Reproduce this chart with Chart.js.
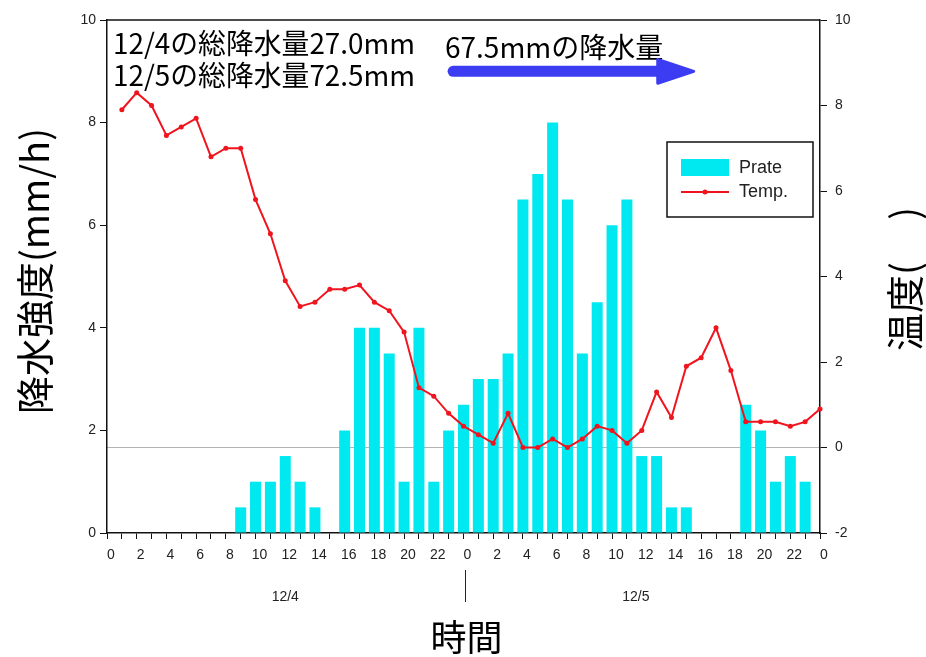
<!DOCTYPE html>
<html lang="ja">
<head>
<meta charset="utf-8">
<title>降水強度と温度</title>
<script src="https://cdn.jsdelivr.net/npm/chart.js@4.4.1/dist/chart.umd.min.js"></script>
<style>
  html, body { margin: 0; padding: 0; background: #fff; }
  #wrap { width: 926px; height: 657px; }
</style>
</head>
<body>
<div id="wrap"><canvas id="grafico" width="926" height="657"></canvas></div>
<script>
// horas desde 12/4 0:00 hasta 12/6 0:00
const horas = [0,1,2,3,4,5,6,7,8,9,10,11,12,13,14,15,16,17,18,19,20,21,22,23,
               24,25,26,27,28,29,30,31,32,33,34,35,36,37,38,39,40,41,42,43,44,45,46,47,48];

// Prate (mm/h), un valor por hora
const prate = [null,null,null,null,null,null,null,null,null,0.5,1,1,1.5,1,0.5,null,2,4,4,3.5,1,4,1,2,
               2.5,3,3,3.5,6.5,7,8,6.5,3.5,4.5,6,6.5,1.5,1.5,0.5,0.5,null,null,null,2.5,2,1,1.5,1,null];

// Temp. (eje derecho)
const temp = [null,7.9,8.3,8.0,7.3,7.5,7.7,6.8,7.0,7.0,5.8,5.0,3.9,3.3,3.4,3.7,3.7,3.8,3.4,3.2,2.7,1.4,1.2,0.8,
              0.5,0.3,0.1,0.8,0.0,0.0,0.2,0.0,0.2,0.5,0.4,0.1,0.4,1.3,0.7,1.9,2.1,2.8,1.8,0.6,0.6,0.6,0.5,0.6,0.9];

const fechas = ['12/4', '12/5'];
const notas = ['12/4の総降水量27.0mm', '12/5の総降水量72.5mm'];
const notaFlecha = '67.5mmの降水量';

const fuenteJP = '"Noto Sans CJK JP", "Noto Sans", sans-serif';
const fuenteEje = '"Liberation Sans", Arial, sans-serif';
const colorBarra = 'rgb(0,232,240)';
const colorLinea = 'rgb(240,20,30)';

// dibuja marco superior, notas, flecha, leyenda, fechas y titulos
const decor = {
  id: 'decor',
  afterDraw(chart) {
    const {ctx, chartArea: a, scales: {x, y}} = chart;
    ctx.save();

    // borde superior del marco
    ctx.strokeStyle = '#111';
    ctx.lineWidth = 1.5;
    ctx.beginPath();
    ctx.moveTo(a.left, a.top);
    ctx.lineTo(a.right, a.top);
    ctx.stroke();

    // notas de texto
    ctx.fillStyle = '#000';
    ctx.textBaseline = 'middle';
    ctx.textAlign = 'left';
    ctx.font = '28px ' + fuenteJP;
    ctx.fillText(notas[0], a.left + 6, 43, 302);
    ctx.fillText(notas[1], a.left + 6, 75, 302);
    ctx.fillText(notaFlecha, 445, 47, 222);

    // flecha azul
    let fx0 = x.getPixelForValue(23.3);
    let fx1 = x.getPixelForValue(39.5);
    let fy = y.getPixelForValue(9);
    ctx.strokeStyle = '#3c3cf2';
    ctx.fillStyle = '#3c3cf2';
    ctx.lineWidth = 11;
    ctx.lineCap = 'round';
    ctx.beginPath();
    ctx.moveTo(fx0, fy);
    ctx.lineTo(fx1 - 30, fy);
    ctx.stroke();
    ctx.lineJoin = 'round';
    ctx.lineWidth = 3;
    ctx.beginPath();
    ctx.moveTo(fx1 - 36, fy - 12);
    ctx.lineTo(fx1, fy);
    ctx.lineTo(fx1 - 36, fy + 12);
    ctx.closePath();
    ctx.fill();
    ctx.stroke();

    // leyenda
    let lx = 667, ly = 142, lw = 146, lh = 75;
    ctx.fillStyle = '#fff';
    ctx.fillRect(lx, ly, lw, lh);
    ctx.strokeStyle = '#111';
    ctx.lineWidth = 1.5;
    ctx.lineCap = 'butt';
    ctx.lineJoin = 'miter';
    ctx.strokeRect(lx, ly, lw, lh);
    let ds = chart.data.datasets;
    ctx.fillStyle = ds[0].backgroundColor;
    ctx.fillRect(lx + 14, ly + 17, 48, 17);
    ctx.strokeStyle = ds[1].borderColor;
    ctx.lineWidth = 2;
    ctx.beginPath();
    ctx.moveTo(lx + 14, ly + 50);
    ctx.lineTo(lx + 62, ly + 50);
    ctx.stroke();
    ctx.fillStyle = ds[1].borderColor;
    ctx.beginPath();
    ctx.arc(lx + 38, ly + 50, 2.5, 0, Math.PI * 2);
    ctx.fill();
    ctx.fillStyle = '#222';
    ctx.font = '18px ' + fuenteEje;
    ctx.fillText(ds[0].label, lx + 72, ly + 26);
    ctx.fillText(ds[1].label, lx + 72, ly + 50);

    // fechas bajo el eje
    ctx.font = '14px ' + fuenteEje;
    ctx.textAlign = 'center';
    ctx.fillStyle = '#222';
    ctx.fillText(fechas[0], x.getPixelForValue(12), a.bottom + 64);
    ctx.fillText(fechas[1], x.getPixelForValue(35.6), a.bottom + 64);
    let xd = x.getPixelForValue(24) + 2;
    ctx.strokeStyle = '#222';
    ctx.lineWidth = 1;
    ctx.beginPath();
    ctx.moveTo(xd, a.bottom + 37);
    ctx.lineTo(xd, a.bottom + 69);
    ctx.stroke();

    // titulos
    ctx.fillStyle = '#000';
    ctx.font = '36px ' + fuenteJP;
    ctx.fillText('時間', (a.left + a.right) / 2 + 3, 637);

    ctx.font = '38px ' + fuenteJP;
    ctx.save();
    ctx.translate(35, 271);
    ctx.rotate(-Math.PI / 2);
    ctx.fillText('降水強度(mm/h)', 0, 0);
    ctx.restore();

    ctx.save();
    ctx.translate(905, 279);
    ctx.rotate(-Math.PI / 2);
    ctx.fillText('温度(     )', 0, 0);
    ctx.restore();

    ctx.restore();
  }
};

let fuenteTick = {family: fuenteEje, size: 14};

let config = {
  data: {
    labels: horas,
    datasets: [
      {
        type: 'bar',
        label: 'Prate',
        data: prate,
        yAxisID: 'y',
        backgroundColor: colorBarra,
        barPercentage: 1,
        categoryPercentage: 0.74,
        order: 1
      },
      {
        type: 'line',
        label: 'Temp.',
        data: temp,
        yAxisID: 'y2',
        borderColor: colorLinea,
        backgroundColor: colorLinea,
        borderWidth: 2,
        pointRadius: 2.5,
        pointBackgroundColor: colorLinea,
        pointBorderWidth: 0,
        tension: 0,
        order: 0
      }
    ]
  },
  options: {
    responsive: false,
    animation: false,
    layout: { padding: { top: 20, left: 0, right: 0, bottom: 0 } },
    plugins: { legend: { display: false }, tooltip: { enabled: false } },
    scales: {
      x: {
        type: 'category',
        offset: false,
        grid: { offset: false, drawOnChartArea: false, tickLength: 6, tickColor: '#111', tickWidth: 1 },
        border: { color: '#111', width: 1.5 },
        ticks: {
          autoSkip: false,
          maxRotation: 0,
          minRotation: 0,
          padding: 8,
          labelOffset: 4,
          color: '#222',
          font: fuenteTick,
          callback: (v, i) => i % 2 === 0 ? String(horas[i] % 24) : ''
        },
        afterFit: (s) => { s.height = 124; }
      },
      y: {
        position: 'left',
        min: 0,
        max: 10,
        grid: { drawOnChartArea: false, tickLength: 7, tickColor: '#111' },
        border: { color: '#111', width: 1.5 },
        ticks: { stepSize: 2, padding: 4, color: '#222', font: fuenteTick },
        afterFit: (s) => { s.width = 107; }
      },
      y2: {
        position: 'right',
        min: -2,
        max: 10,
        grid: {
          drawOnChartArea: true,
          tickLength: 7,
          tickColor: '#111',
          color: (c) => c.tick && c.tick.value === 0 ? '#b4b4b4' : 'rgba(0,0,0,0)'
        },
        border: { color: '#111', width: 1.5 },
        ticks: { stepSize: 2, padding: 8, color: '#222', font: fuenteTick },
        afterFit: (s) => { s.width = 106; }
      }
    }
  },
  plugins: [decor]
};

let grafico = new Chart(document.getElementById('grafico'), config);
</script>
</body>
</html>
